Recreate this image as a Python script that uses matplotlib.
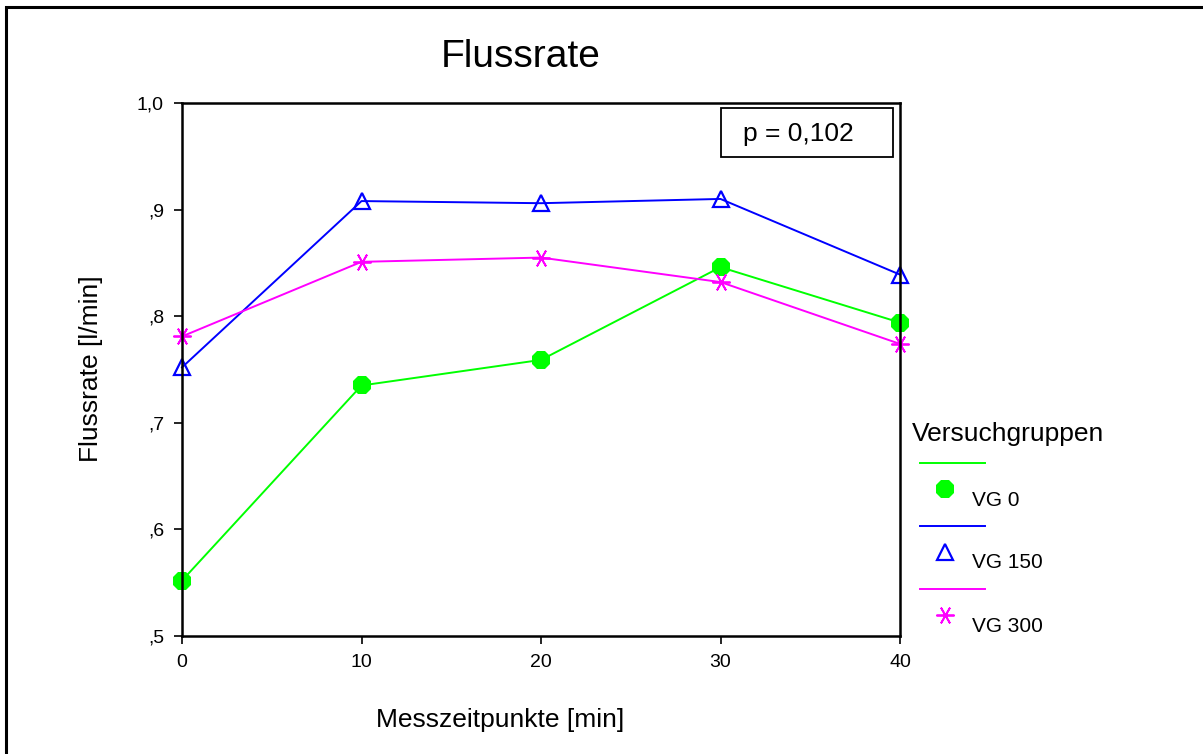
from matplotlib import pyplot as plt
from matplotlib.lines import Line2D
from matplotlib.patches import Rectangle

plt.rcParams["font.family"] = ["Liberation Sans", "DejaVu Sans"]

# Daten
zeitpunkte = [0, 10, 20, 30, 40]
vg0 = [0.552, 0.735, 0.759, 0.846, 0.794]
vg150 = [0.752, 0.908, 0.906, 0.910, 0.839]
vg300 = [0.781, 0.851, 0.855, 0.832, 0.774]
gruppen = ["VG 0", "VG 150", "VG 300"]
y_ticks = [0.5, 0.6, 0.7, 0.8, 0.9, 1.0]
y_labels = [",5", ",6", ",7", ",8", ",9", "1,0"]
x_ticks = [0, 10, 20, 30, 40]

W, H = 1203, 754
fig = plt.figure(figsize=(W / 100, H / 100), dpi=100)

def fx(px):
    return px / W

def fy(py):
    return 1 - py / H

# Rahmen um die Grafik
fig.patches.append(Rectangle((fx(6), -0.1), 1.2, fy(7) + 0.1, transform=fig.transFigure,
                             fill=False, edgecolor="black", linewidth=2.2))

ax = fig.add_axes([fx(182), fy(636), fx(900) - fx(182), fy(103) - fy(636)])

stile = [
    dict(color="#00ff00", marker="8", markersize=14, markerfacecolor="#00ff00", markeredgewidth=0),
    dict(color="#0000ff", marker="^", markersize=12, markerfacecolor="none", markeredgewidth=1.6),
    dict(color="#ff00ff", marker=(6, 2, 90), markersize=13, markeredgewidth=1.3),
]

for werte, st in zip([vg0, vg150, vg300], stile):
    ax.plot(zeitpunkte, werte, linewidth=1.4, clip_on=False, **st)

ax.set_xlim(0, 40)
ax.set_ylim(0.5, 1.0)
ax.set_xticks(x_ticks)
ax.set_yticks(y_ticks)
ax.set_yticklabels(y_labels)
ax.tick_params(direction="out", length=6, width=1.2, labelsize=14, pad=7)
for s in ax.spines.values():
    s.set_linewidth(1.8)

# p-Wert Box
fig.patches.append(Rectangle((fx(721), fy(157)), fx(893) - fx(721), fy(108) - fy(157),
                             transform=fig.transFigure, fill=True, facecolor="white",
                             edgecolor="black", linewidth=1.3, zorder=5))
fig.text(fx(798), fy(134), "p = 0,102", ha="center", va="center", fontsize=19, zorder=6)

fig.text(fx(521), fy(57), "Flussrate", ha="center", va="center", fontsize=28)
fig.text(fx(500), fy(720), "Messzeitpunkte [min]", ha="center", va="center", fontsize=19)
fig.text(fx(91), fy(369), "Flussrate [l/min]", ha="center", va="center", fontsize=19, rotation=90)

# Legende (wie im Original: Linie, darunter Symbol mit Beschriftung)
fig.text(fx(912), fy(434), "Versuchgruppen", ha="left", va="center", fontsize=19)
for i, (name, st) in enumerate(zip(gruppen, stile)):
    y0 = 463 + i * 63
    fig.lines.append(Line2D([fx(920), fx(985)], [fy(y0), fy(y0)], transform=fig.transFigure,
                            color=st["color"], linewidth=1.4))
    m = dict(st)
    m["linestyle"] = "none"
    fig.lines.append(Line2D([fx(945)], [fy(y0 + 26)], transform=fig.transFigure, **m))
    fig.text(fx(972), fy(y0 + 37), name, ha="left", va="center", fontsize=15)

fig.savefig("out.png", dpi=100)
